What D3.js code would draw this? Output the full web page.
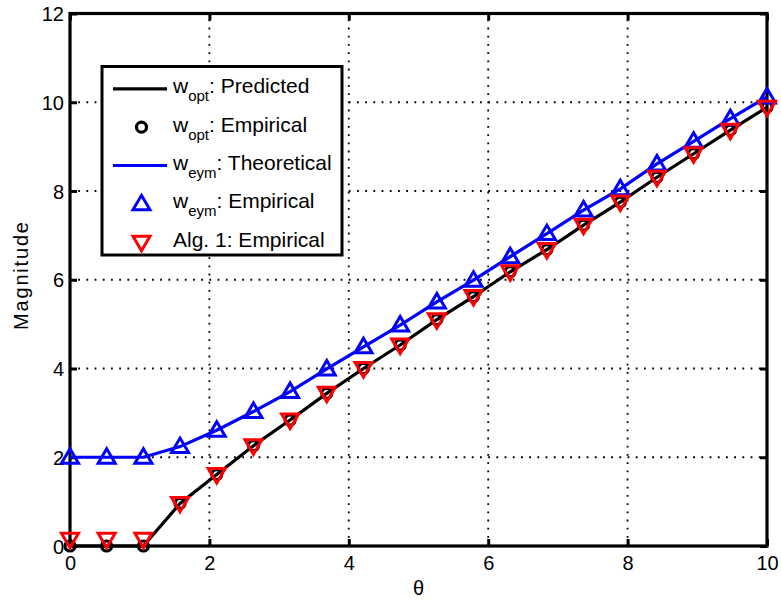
<!DOCTYPE html>
<html>
<head>
<meta charset="utf-8">
<script src="https://cdn.jsdelivr.net/npm/d3@7"></script>
<style>
  html, body { margin: 0; padding: 0; background: #fff; }
  svg { display: block; }
  text { font-family: "Liberation Sans", Arial, sans-serif; }
</style>
</head>
<body>
<svg id="chart" width="781" height="600"></svg>
<script>
// ---- data ----
const thetaVals = [0, 0.526, 1.053, 1.579, 2.105, 2.632, 3.158, 3.684, 4.211, 4.737,
                   5.263, 5.789, 6.316, 6.842, 7.368, 7.895, 8.421, 8.947, 9.474, 10];
const wOptPredicted = [0, 0, 0, 0.96, 1.61, 2.26, 2.84, 3.44, 4.00, 4.53,
                       5.10, 5.62, 6.18, 6.68, 7.23, 7.75, 8.31, 8.84, 9.37, 9.89];
const wOptEmpirical = [0, 0, 0, 0.96, 1.61, 2.26, 2.84, 3.44, 4.00, 4.53,
                       5.10, 5.62, 6.18, 6.68, 7.23, 7.75, 8.31, 8.84, 9.37, 9.89];
const wEymTheoretical = [2.0, 2.0, 2.0, 2.24, 2.61, 3.03, 3.48, 3.99, 4.49, 4.98,
                         5.50, 5.99, 6.52, 7.04, 7.57, 8.05, 8.61, 9.12, 9.63, 10.12];
const wEymEmpirical = [2.0, 2.0, 2.0, 2.24, 2.61, 3.03, 3.48, 3.99, 4.49, 4.98,
                       5.50, 5.99, 6.52, 7.04, 7.57, 8.05, 8.61, 9.12, 9.63, 10.12];
const alg1Empirical = [0.15, 0.15, 0.15, 0.96, 1.61, 2.26, 2.84, 3.44, 4.00, 4.53,
                       5.10, 5.62, 6.18, 6.68, 7.23, 7.75, 8.31, 8.84, 9.37, 9.89];
const xTicks = [0, 2, 4, 6, 8, 10];
const yTicks = [0, 2, 4, 6, 8, 10, 12];
const legendLabels = [
  {main: "w", sub: "opt", rest: ": Predicted"},
  {main: "w", sub: "opt", rest: ": Empirical"},
  {main: "w", sub: "eym", rest: ": Theoretical"},
  {main: "w", sub: "eym", rest: ": Empirical"},
  {main: "Alg. 1: Empirical", sub: "", rest: ""}
];
const xLabel = "θ";
const yLabel = "Magnitude";

// ---- layout ----
const L = 70, R = 767, T = 13.5, B = 546;
const svg = d3.select("#chart");
const x = d3.scaleLinear().domain([0, 10]).range([L, R]);
const y = d3.scaleLinear().domain([0, 12]).range([B, T]);

// grid
const grid = svg.append("g").attr("stroke", "#000").attr("stroke-width", 1.8)
  .attr("stroke-dasharray", "1.8,6.4").attr("fill", "none");
xTicks.filter(d => d > 0 && d < 10).forEach(d => {
  grid.append("line").attr("x1", x(d)).attr("x2", x(d)).attr("y1", B).attr("y2", T);
});
yTicks.filter(d => d > 0 && d < 12).forEach(d => {
  grid.append("line").attr("x1", L).attr("x2", R).attr("y1", y(d)).attr("y2", y(d));
});

// axes with inward ticks
const tl = 7;
const axB = svg.append("g").attr("transform", `translate(0,${B})`)
  .call(d3.axisBottom(x).tickValues(xTicks).tickSizeInner(-tl).tickSizeOuter(0).tickPadding(12));
const axT = svg.append("g").attr("transform", `translate(0,${T})`)
  .call(d3.axisTop(x).tickValues(xTicks).tickSizeInner(-tl).tickSizeOuter(0).tickFormat(""));
const axL = svg.append("g").attr("transform", `translate(${L},0)`)
  .call(d3.axisLeft(y).tickValues(yTicks).tickSizeInner(-tl).tickSizeOuter(0).tickPadding(8));
const axR = svg.append("g").attr("transform", `translate(${R},0)`)
  .call(d3.axisRight(y).tickValues(yTicks).tickSizeInner(-tl).tickSizeOuter(0).tickFormat(""));
[axB, axT, axL, axR].forEach(a => {
  a.select(".domain").remove();
  a.selectAll(".tick line").attr("stroke", "#000").attr("stroke-width", 3);
  a.selectAll("text").attr("font-size", 20).attr("fill", "#000")
    .attr("font-family", "'Liberation Sans', Arial, sans-serif");
});
axL.selectAll("text").attr("dy", "0.36em").attr("x", -6);
axB.selectAll("text").attr("dy", "0.71em").attr("y", 10);

// frame
svg.append("rect").attr("x", L).attr("y", T).attr("width", R - L).attr("height", B - T)
  .attr("fill", "none").attr("stroke", "#000").attr("stroke-width", 3.2);

// series
const pts = arr => thetaVals.map((t, i) => [t, arr[i]]);
const line = d3.line().x(d => x(d[0])).y(d => y(d[1]));
const plot = svg.append("g");

plot.append("path").datum(pts(wOptPredicted)).attr("d", line)
  .attr("fill", "none").attr("stroke", "#000").attr("stroke-width", 3.2);
plot.selectAll("circle.opt").data(pts(wOptEmpirical)).enter().append("circle")
  .attr("cx", d => x(d[0])).attr("cy", d => y(d[1])).attr("r", 5)
  .attr("fill", "none").attr("stroke", "#000").attr("stroke-width", 3.2);
plot.append("path").datum(pts(wEymTheoretical)).attr("d", line)
  .attr("fill", "none").attr("stroke", "#0000ff").attr("stroke-width", 3.2);

const triUp = (cx, cy) => `M${cx - 8.5},${cy + 6} L${cx + 8.5},${cy + 6} L${cx},${cy - 8.5} Z`;
const triDown = (cx, cy) => `M${cx - 8.5},${cy - 6} L${cx + 8.5},${cy - 6} L${cx},${cy + 8.5} Z`;

plot.selectAll("path.eym").data(pts(wEymEmpirical)).enter().append("path")
  .attr("d", d => triUp(x(d[0]), y(d[1])))
  .attr("fill", "none").attr("stroke", "#0000ff").attr("stroke-width", 3)
  .attr("stroke-linejoin", "miter");
plot.selectAll("path.alg").data(pts(alg1Empirical)).enter().append("path")
  .attr("d", d => triDown(x(d[0]), y(d[1])))
  .attr("fill", "none").attr("stroke", "#ff0000").attr("stroke-width", 3)
  .attr("stroke-linejoin", "miter");

// axis labels
svg.append("text").attr("x", (L + R) / 2).attr("y", 595).attr("text-anchor", "middle")
  .attr("font-family", "'Liberation Serif', 'Times New Roman', serif")
  .attr("font-size", 20).attr("fill", "#000").text(xLabel);
svg.append("text").attr("transform", `translate(28,276) rotate(-90)`)
  .attr("text-anchor", "middle").attr("font-size", 20).attr("fill", "#000")
  .attr("textLength", 108).attr("lengthAdjust", "spacing").text(yLabel);

// legend
const lg = svg.append("g");
lg.append("rect").attr("x", 102).attr("y", 66.5).attr("width", 240).attr("height", 188.5)
  .attr("fill", "#fff").attr("stroke", "#000").attr("stroke-width", 3);
const baseY = 93.3, stepY = 38.35, mx = 141.5, tx = 173;
legendLabels.forEach((lab, i) => {
  const by = baseY + i * stepY, my = by - 4.5;
  if (i === 0 || i === 2) {
    lg.append("line").attr("x1", 113).attr("x2", 167).attr("y1", my).attr("y2", my)
      .attr("stroke", i === 0 ? "#000" : "#0000ff").attr("stroke-width", 3.2);
  } else if (i === 1) {
    lg.append("circle").attr("cx", mx).attr("cy", my).attr("r", 5)
      .attr("fill", "none").attr("stroke", "#000").attr("stroke-width", 3.2);
  } else if (i === 3) {
    lg.append("path").attr("d", triUp(mx, my)).attr("fill", "none")
      .attr("stroke", "#0000ff").attr("stroke-width", 3);
  } else {
    lg.append("path").attr("d", triDown(mx, my)).attr("fill", "none")
      .attr("stroke", "#ff0000").attr("stroke-width", 3);
  }
  const t = lg.append("text").attr("x", tx).attr("y", by).attr("font-size", 21).attr("fill", "#000");
  t.append("tspan").text(lab.main);
  if (lab.sub) {
    t.append("tspan").attr("font-size", 15).attr("dy", 8).text(lab.sub);
    t.append("tspan").attr("dy", -8).text(lab.rest);
  }
});
</script>
</body>
</html>
